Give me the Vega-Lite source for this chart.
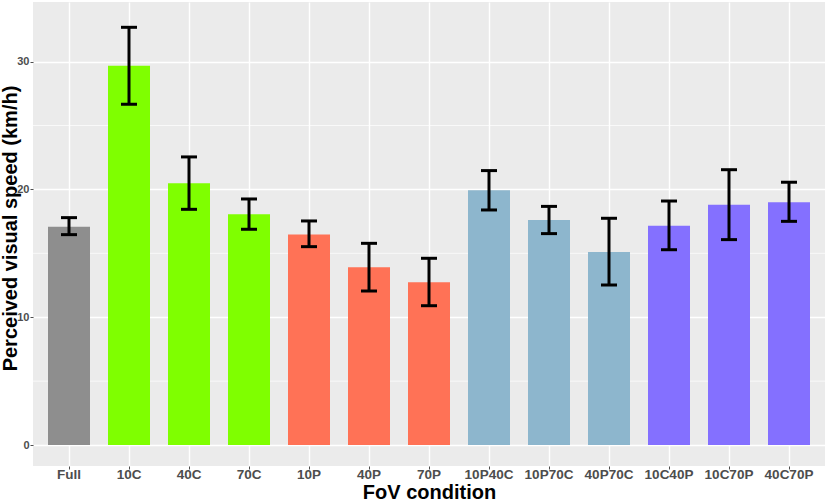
{
  "$schema": "https://vega.github.io/schema/vega-lite/v6.json",
  "autosize": {"type": "none"},
  "width": 792,
  "height": 464,
  "padding": {"left": 33, "top": 2, "right": 4, "bottom": 35},
  "background": "white",
  "config": {
    "view": {"fill": "#EBEBEB", "stroke": null},
    "font": "Liberation Sans"
  },
  "datasets": {
    "speeds": [
      {"condition": "Full", "group": "full", "mean": 17.08, "lo": 16.46, "hi": 17.79},
      {"condition": "10C", "group": "central", "mean": 29.68, "lo": 26.66, "hi": 32.68},
      {"condition": "40C", "group": "central", "mean": 20.48, "lo": 18.44, "hi": 22.54},
      {"condition": "70C", "group": "central", "mean": 18.05, "lo": 16.88, "hi": 19.25},
      {"condition": "10P", "group": "peripheral", "mean": 16.48, "lo": 15.52, "hi": 17.53},
      {"condition": "40P", "group": "peripheral", "mean": 13.9, "lo": 12.05, "hi": 15.78},
      {"condition": "70P", "group": "peripheral", "mean": 12.73, "lo": 10.9, "hi": 14.61},
      {"condition": "10P40C", "group": "pc", "mean": 19.93, "lo": 18.39, "hi": 21.47},
      {"condition": "10P70C", "group": "pc", "mean": 17.61, "lo": 16.54, "hi": 18.67},
      {"condition": "40P70C", "group": "pc", "mean": 15.1, "lo": 12.52, "hi": 17.74},
      {"condition": "10C40P", "group": "cp", "mean": 17.16, "lo": 15.28, "hi": 19.09},
      {"condition": "10C70P", "group": "cp", "mean": 18.8, "lo": 16.07, "hi": 21.54},
      {"condition": "40C70P", "group": "cp", "mean": 18.99, "lo": 17.5, "hi": 20.56}
    ],
    "minor": [{"v": 5}, {"v": 15}, {"v": 25}]
  },
  "layer": [
    {
      "data": {"name": "minor"},
      "mark": {"type": "rule", "color": "white", "strokeWidth": 0.7},
      "encoding": {
        "y": {"field": "v", "type": "quantitative", "scale": {"domain": [-1.64, 34.66], "nice": false, "zero": false}}
      }
    },
    {
      "data": {"name": "speeds"},
      "encoding": {
        "x": {
          "field": "condition",
          "type": "nominal",
          "sort": null,
          "scale": {"paddingInner": 0.3, "paddingOuter": 0.25},
          "axis": {
            "title": "FoV condition",
            "titleFontSize": 20,
            "titleFontWeight": "bold",
            "titleColor": "black",
            "titleX": 396,
            "titleY": 32,
            "titleBaseline": "alphabetic",
            "labelAngle": 0,
            "labelFontSize": 13.5,
            "labelFontWeight": "bold",
            "labelColor": "#4D4D4D",
            "labelBaseline": "alphabetic",
            "labelPadding": 9,
            "tickSize": 3,
            "tickColor": "#4D4D4D",
            "domain": false,
            "grid": true,
            "gridColor": "white",
            "gridWidth": 1.4,
            "bandPosition": 0.5
          }
        }
      },
      "layer": [
        {
          "mark": {"type": "bar"},
          "encoding": {
            "y": {
              "field": "mean",
              "type": "quantitative",
              "scale": {"domain": [-1.64, 34.66], "nice": false, "zero": false},
              "axis": {
                "title": "Perceived visual speed (km/h)",
                "titleFontSize": 20,
                "titleFontWeight": "bold",
                "titleColor": "black",
                "titleAngle": -90,
                "titleX": -17,
                "titleY": 226,
                "titleBaseline": "alphabetic",
                "titleAlign": "center",
                "values": [0, 10, 20, 30],
                "labelFontSize": 11,
                "labelFontWeight": "bold",
                "labelColor": "#4D4D4D",
                "labelPadding": 1,
                "tickSize": 3,
                "tickColor": "#4D4D4D",
                "domain": false,
                "grid": true,
                "gridColor": "white",
                "gridWidth": 1.4
              }
            },
            "y2": {"datum": 0},
            "color": {
              "field": "group",
              "type": "nominal",
              "scale": {
                "domain": ["full", "central", "peripheral", "pc", "cp"],
                "range": ["#8E8E8E", "#7FFF00", "#FF7256", "#8DB6CD", "#8470FF"]
              },
              "legend": null
            }
          }
        },
        {
          "mark": {"type": "rule", "color": "black", "strokeWidth": 3},
          "encoding": {
            "y": {"field": "lo", "type": "quantitative"},
            "y2": {"field": "hi"}
          }
        },
        {
          "mark": {"type": "tick", "color": "black", "thickness": 3, "size": 16, "opacity": 1},
          "encoding": {
            "y": {"field": "lo", "type": "quantitative"}
          }
        },
        {
          "mark": {"type": "tick", "color": "black", "thickness": 3, "size": 16, "opacity": 1},
          "encoding": {
            "y": {"field": "hi", "type": "quantitative"}
          }
        }
      ]
    }
  ]
}
